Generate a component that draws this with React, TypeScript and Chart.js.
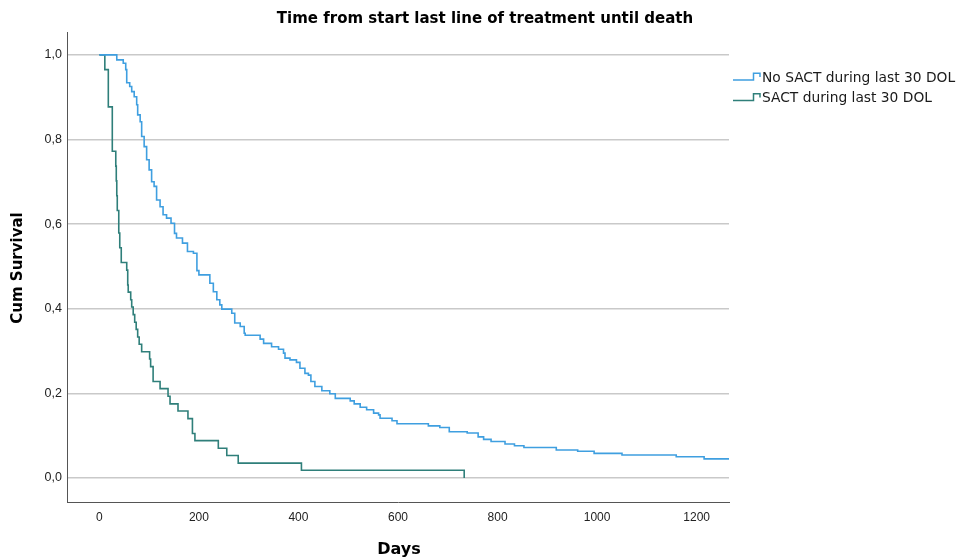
import React, { useEffect, useRef } from 'react';
import { Chart, registerables } from 'chart.js';

Chart.register(...registerables);

const chartTitle = 'Time from start last line of treatment until death';
const xAxisTitle = 'Days';
const yAxisTitle = 'Cum Survival';
const seriesLabels = ['No SACT during last 30 DOL', 'SACT during last 30 DOL'];
const seriesColors = ['#3f9fe0', '#2f7f7a'];

const xTicks = [0, 200, 400, 600, 800, 1000, 1200];
const yTicks = [0, 0.2, 0.4, 0.6, 0.8, 1.0];

// No SACT during last 30 DOL (time in days, cumulative survival after event)
const noSactDays = [0, 35, 48, 53, 55, 61, 65, 70, 75, 77, 82, 85, 90, 95, 100, 105, 110, 115, 122, 128, 135, 144, 151, 155, 167, 177, 189, 196, 200, 222, 229, 236, 242, 246, 266, 272, 283, 291, 293, 323, 330, 346, 360, 370, 373, 383, 396, 403, 413, 420, 425, 433, 447, 463, 474, 504, 512, 524, 537, 551, 561, 564, 588, 598, 661, 684, 703, 739, 761, 772, 787, 815, 834, 853, 918, 961, 994, 1050, 1159, 1215, 1300];
const noSactSurv = [1, 0.988, 0.98, 0.965, 0.934, 0.925, 0.913, 0.901, 0.882, 0.858, 0.842, 0.807, 0.783, 0.752, 0.728, 0.7, 0.689, 0.657, 0.641, 0.622, 0.614, 0.602, 0.578, 0.567, 0.555, 0.535, 0.531, 0.49, 0.48, 0.46, 0.44, 0.421, 0.409, 0.399, 0.389, 0.366, 0.358, 0.342, 0.337, 0.328, 0.318, 0.31, 0.304, 0.295, 0.283, 0.279, 0.273, 0.259, 0.247, 0.243, 0.228, 0.216, 0.206, 0.199, 0.188, 0.182, 0.175, 0.167, 0.161, 0.153, 0.149, 0.141, 0.135, 0.128, 0.123, 0.119, 0.109, 0.106, 0.097, 0.091, 0.086, 0.08, 0.076, 0.072, 0.066, 0.063, 0.058, 0.054, 0.05, 0.045, 0.045];

// SACT during last 30 DOL
const sactDays = [0, 11, 18, 26, 33, 34, 35, 36, 39, 41, 44, 55, 57, 58, 63, 65, 68, 71, 74, 77, 80, 85, 101, 103, 108, 122, 138, 142, 158, 178, 187, 192, 239, 256, 279, 406, 733];
const sactSurv = [1, 0.965, 0.877, 0.772, 0.737, 0.702, 0.667, 0.632, 0.579, 0.544, 0.509, 0.491, 0.456, 0.439, 0.421, 0.404, 0.386, 0.368, 0.351, 0.333, 0.316, 0.298, 0.281, 0.263, 0.228, 0.211, 0.193, 0.175, 0.158, 0.14, 0.105, 0.088, 0.07, 0.053, 0.035, 0.018, 0];

const xMin = -65;
const xMax = 1265;
const yMin = -0.057;
const yMax = 1.054;

const overlayPlugin = {
  id: 'overlayTexts',
  afterDraw(chart: any) {
    const ctx = chart.ctx as CanvasRenderingContext2D;
    const area = chart.chartArea;
    ctx.save();
    ctx.fillStyle = '#000';
    // title
    ctx.font = 'bold 15px "DejaVu Sans"';
    ctx.textAlign = 'center';
    ctx.textBaseline = 'middle';
    ctx.fillText(chartTitle, 485, 19);
    // x title
    ctx.font = 'bold 16px "DejaVu Sans"';
    ctx.fillText(xAxisTitle, (area.left + area.right) / 2 + 1, 550);
    // y title
    ctx.save();
    ctx.translate(18, 268);
    ctx.rotate(-Math.PI / 2);
    ctx.font = 'bold 15px "DejaVu Sans"';
    ctx.fillText(yAxisTitle, 0, 0);
    ctx.restore();
    // legend
    ctx.textAlign = 'left';
    ctx.font = '13.8px "DejaVu Sans"';
    chart.data.datasets.forEach((ds: any, i: number) => {
      const yc = 77.5 + i * 20.5;
      const lx = area.right + 4;
      ctx.strokeStyle = ds.borderColor;
      ctx.lineWidth = 1.5;
      ctx.beginPath();
      ctx.moveTo(lx, yc + 2.5);
      ctx.lineTo(lx + 20.5, yc + 2.5);
      ctx.lineTo(lx + 20.5, yc - 4.2);
      ctx.lineTo(lx + 27, yc - 4.2);
      ctx.lineTo(lx + 27, yc - 0.5);
      ctx.stroke();
      ctx.fillStyle = '#1a1a1a';
      ctx.fillText(ds.label, lx + 29, yc + 0.5);
    });
    ctx.restore();
  },
};

export default function App() {
  const canvasRef = useRef<HTMLCanvasElement | null>(null);

  useEffect(() => {
    const canvas = canvasRef.current;
    if (!canvas) return;
    const toPts = (d: number[], s: number[]) => d.map((x, i) => ({ x, y: s[i] }));
    const chart = new Chart(canvas, {
      type: 'line',
      data: {
        datasets: [
          {
            label: seriesLabels[0],
            data: toPts(noSactDays, noSactSurv),
            borderColor: seriesColors[0],
            borderWidth: 1.6,
            stepped: 'before',
            pointRadius: 0,
            fill: false,
          },
          {
            label: seriesLabels[1],
            data: toPts(sactDays, sactSurv),
            borderColor: seriesColors[1],
            borderWidth: 1.6,
            stepped: 'before',
            pointRadius: 0,
            fill: false,
          },
        ],
      },
      options: {
        animation: false,
        responsive: false,
        devicePixelRatio: 1,
        layout: { padding: { top: 32, right: 228, left: 0, bottom: 0 } },
        plugins: {
          legend: { display: false },
          title: { display: false },
          tooltip: { enabled: false },
        },
        scales: {
          x: {
            type: 'linear',
            min: xMin,
            max: xMax,
            afterFit: (s: any) => { s.height = 56; },
            afterBuildTicks: (s: any) => { s.ticks = xTicks.map((v) => ({ value: v })); },
            grid: { display: false, drawTicks: false },
            border: { display: true, color: '#555', width: 1 },
            ticks: {
              padding: 8,
              color: '#222',
              font: { family: 'Liberation Sans', size: 12 },
              maxRotation: 0,
              autoSkip: false,
              callback: (v: any) => String(v),
            },
          },
          y: {
            type: 'linear',
            min: yMin,
            max: yMax,
            afterFit: (s: any) => { s.width = 67; },
            afterBuildTicks: (s: any) => { s.ticks = yTicks.map((v) => ({ value: v })); },
            grid: { color: '#c9c9c9', lineWidth: 1.5, drawTicks: false },
            border: { display: true, color: '#555', width: 1 },
            ticks: {
              padding: 5,
              color: '#222',
              font: { family: 'Liberation Sans', size: 12.5 },
              autoSkip: false,
              callback: (v: any) => Number(v).toFixed(1).replace('.', ','),
            },
          },
        },
      },
      plugins: [overlayPlugin],
    } as any);
    return () => chart.destroy();
  }, []);

  return (
    <div style={{ position: 'fixed', left: 0, top: 0, width: 957, height: 558, background: '#fff' }}>
      <canvas ref={canvasRef} width={957} height={558} />
    </div>
  );
}
